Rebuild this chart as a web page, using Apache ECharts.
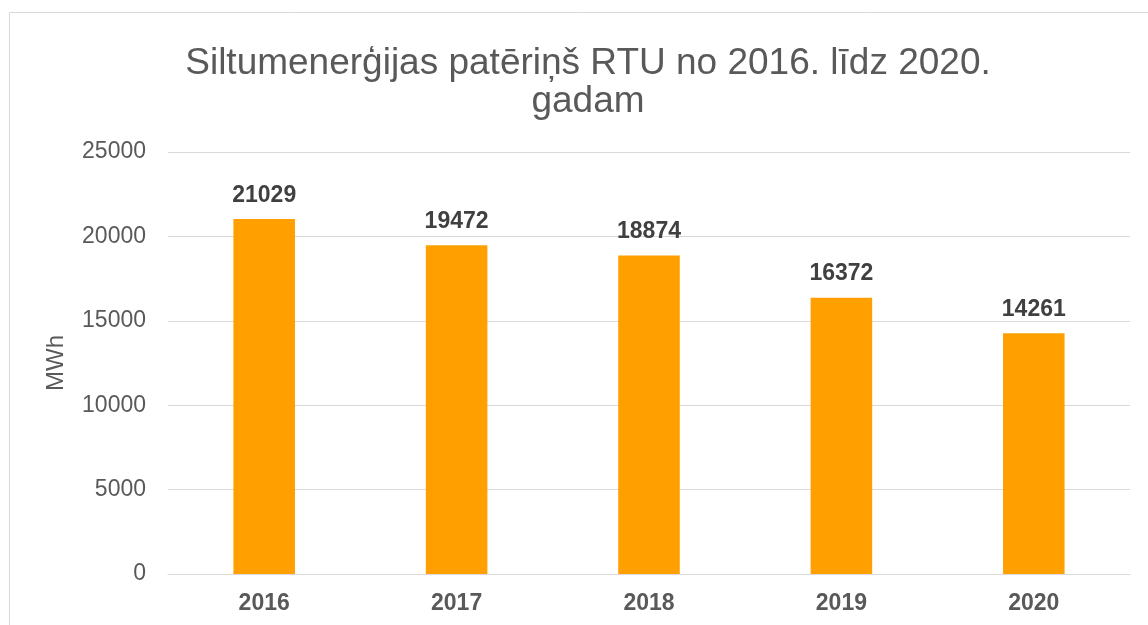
<!DOCTYPE html>
<html>
<head>
<meta charset="utf-8">
<script src="https://cdn.jsdelivr.net/npm/echarts@6/dist/echarts.min.js"></script>
<style>
html,body{margin:0;padding:0;background:#fff;}
#chart{width:1148px;height:625px;}
</style>
</head>
<body>
<div id="chart"></div>
<script>
const categories = ['2016', '2017', '2018', '2019', '2020'];
const values = [21029, 19472, 18874, 16372, 14261];
const titleText = 'Siltumenerģijas patēriņš RTU no 2016. līdz 2020.\ngadam';
const yAxisName = 'MWh';

const chart = echarts.init(document.getElementById('chart'));
const font = 'Liberation Sans, Arial, sans-serif';
chart.setOption({
  animation: false,
  backgroundColor: '#fff',
  graphic: [{
    type: 'rect',
    shape: { x: 9.5, y: 12.5, width: 1200, height: 700 },
    style: { fill: 'none', stroke: '#d9d9d9', lineWidth: 1 },
    silent: true
  }],
  title: {
    text: titleText,
    left: 583,
    textAlign: 'center',
    top: 40,
    textStyle: { fontFamily: font, fontSize: 37, fontWeight: 'normal', color: '#595959', lineHeight: 38 }
  },
  grid: { left: 168, right: 18, top: 152, bottom: 51 },
  xAxis: {
    type: 'category',
    data: categories,
    axisTick: { show: false },
    axisLine: { show: true, lineStyle: { color: '#d9d9d9', width: 1 } },
    axisLabel: { fontFamily: font, fontSize: 23, fontWeight: 'bold', color: '#595959', margin: 18 }
  },
  yAxis: {
    type: 'value',
    min: 0, max: 25000, interval: 5000,
    name: yAxisName,
    nameLocation: 'middle',
    nameGap: 100,
    nameTextStyle: { fontFamily: font, fontSize: 24, color: '#595959' },
    axisLine: { show: false },
    axisTick: { show: false },
    splitLine: { lineStyle: { color: '#d9d9d9', width: 1 } },
    axisLabel: { fontFamily: font, fontSize: 23, color: '#595959', margin: 22, formatter: v => String(v) }
  },
  series: [{
    type: 'bar',
    data: values,
    barWidth: '32%',
    itemStyle: { color: '#FFA000' },
    label: {
      show: true, position: 'top', distance: 12,
      fontFamily: font, fontSize: 23, fontWeight: 'bold', color: '#404040'
    }
  }]
});
</script>
</body>
</html>
